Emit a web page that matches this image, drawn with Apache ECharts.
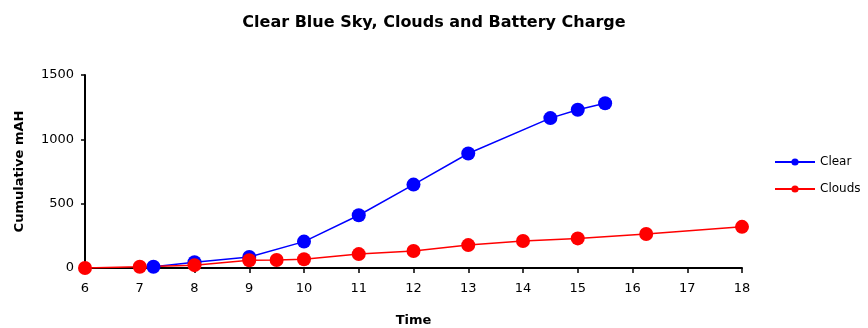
<!DOCTYPE html>
<html>
<head>
<meta charset="utf-8">
<script src="https://cdn.jsdelivr.net/npm/echarts@6/dist/echarts.min.js"></script>
<style>
  html, body { margin: 0; padding: 0; background: #fff; }
  #chart { width: 868px; height: 328px; }
</style>
</head>
<body>
<div id="chart"></div>
<script>
// Hour of day and cumulative charge (mAH) for each sky condition
const clearTime = [7.25, 8, 9, 10, 11, 12, 13, 14.5, 15, 15.5];
const clearMah = [10, 45, 85, 205, 410, 648, 890, 1165, 1230, 1280];
const cloudsTime = [6, 7, 8, 9, 9.5, 10, 11, 12, 13, 14, 15, 16.25, 18];
const cloudsMah = [0, 10, 22, 60, 62, 68, 108, 132, 178, 210, 230, 264, 320];
const xTicks = [6, 7, 8, 9, 10, 11, 12, 13, 14, 15, 16, 17, 18];
const yTicks = [0, 500, 1000, 1500];

const pairs = (xs, ys) => xs.map((x, i) => [x, ys[i]]);
const font = 'DejaVu Sans, Verdana, sans-serif';

const chart = echarts.init(document.getElementById('chart'), null, { renderer: 'canvas' });
chart.setOption({
  backgroundColor: '#ffffff',
  animation: false,
  textStyle: { fontFamily: font },
  title: {
    text: 'Clear Blue Sky, Clouds and Battery Charge',
    left: 'center',
    top: 10,
    textStyle: { fontFamily: font, fontSize: 16, fontWeight: 'bold', color: '#000' }
  },
  grid: {
    left: 85, right: 126, top: 75, bottom: 60,
    containLabel: false,
    outerBoundsMode: 'none'
  },
  legend: {
    orient: 'vertical',
    left: 769,
    top: 151,
    itemWidth: 40,
    itemHeight: 9,
    itemGap: 15,
    textStyle: { fontFamily: font, fontSize: 12, color: '#000' },
    data: ['Clear', 'Clouds']
  },
  xAxis: {
    type: 'value',
    min: xTicks[0],
    max: xTicks[xTicks.length - 1],
    interval: 1,
    name: 'Time',
    nameLocation: 'middle',
    nameGap: 46,
    nameTextStyle: { fontFamily: font, fontSize: 13, fontWeight: 'bold', color: '#000' },
    axisLine: { lineStyle: { color: '#000', width: 2 } },
    axisTick: { show: true, length: 5, lineStyle: { color: '#000', width: 1.5 } },
    axisLabel: { fontFamily: font, fontSize: 13, color: '#000', margin: 14 },
    splitLine: { show: false }
  },
  yAxis: {
    type: 'value',
    min: yTicks[0],
    max: yTicks[yTicks.length - 1],
    interval: 500,
    name: 'Cumulative mAH',
    nameLocation: 'middle',
    nameGap: 59,
    nameRotate: 90,
    nameTextStyle: { fontFamily: font, fontSize: 13, fontWeight: 'bold', color: '#000' },
    axisLine: { show: true, lineStyle: { color: '#000', width: 2 } },
    axisTick: { show: true, length: 4, lineStyle: { color: '#000', width: 1.5 } },
    axisLabel: { fontFamily: font, fontSize: 13, color: '#000', margin: 11, formatter: v => String(v) },
    splitLine: { show: false }
  },
  series: [
    {
      name: 'Clear',
      type: 'line',
      data: pairs(clearTime, clearMah),
      symbol: 'circle',
      symbolSize: 14,
      lineStyle: { color: '#0000ff', width: 1.5 },
      itemStyle: { color: '#0000ff' }
    },
    {
      name: 'Clouds',
      type: 'line',
      data: pairs(cloudsTime, cloudsMah),
      symbol: 'circle',
      symbolSize: 14,
      lineStyle: { color: '#ff0000', width: 1.5 },
      itemStyle: { color: '#ff0000' }
    }
  ]
});
</script>
</body>
</html>
